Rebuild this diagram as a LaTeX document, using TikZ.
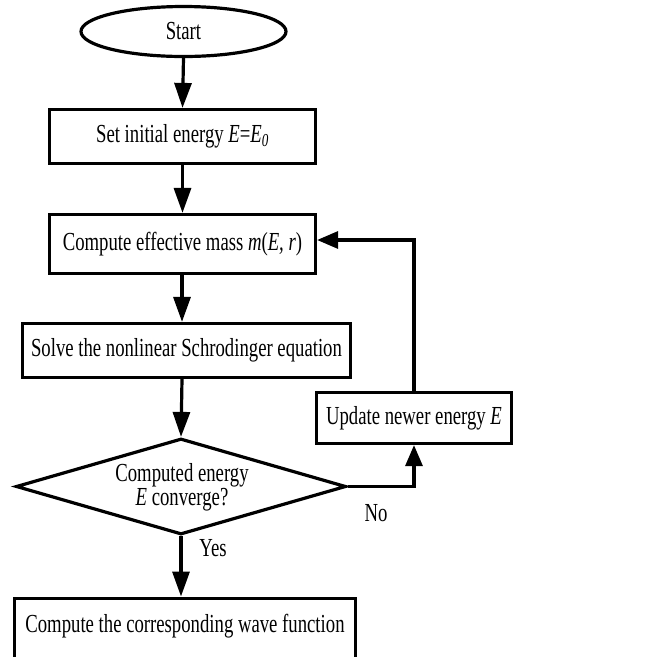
\documentclass[tikz,border=0pt]{standalone}
\usepackage{fontspec}
\setmainfont[FakeStretch=0.72]{Liberation Serif}
\usetikzlibrary{shapes.geometric,arrows.meta,calc}
\begin{document}
\begin{tikzpicture}[x=1pt,y=-1pt,
  every node/.style={font=\fontsize{26}{19}\selectfont, inner sep=0pt, text=black},
  boxnode/.style={draw, line width=3.2pt, rectangle, align=center},
  flow/.style={line width=3.2pt, -{Triangle[length=25pt,width=17pt]}},
  backflow/.style={line width=3.2pt, -{Triangle[length=21pt,width=17pt]}}]
\useasboundingbox (0,0) rectangle (645,657);
\node[draw, line width=3.2pt, ellipse, minimum width=205pt, minimum height=50pt] (start) at (183.5,31.5) {Start};
\node[boxnode, minimum width=266pt, minimum height=54pt] (init) at (182.5,136.5) {Set initial energy \textit{E}=\textit{E}\textsubscript{\textit{0}}};
\node[boxnode, minimum width=266pt, minimum height=59pt] (mass) at (182.5,244) {Compute effective mass \textit{m}(\textit{E, r})};
\node[boxnode, minimum width=328pt, minimum height=54pt] (solve) at (186.5,350.5) {Solve the nonlinear Schrodinger equation};
\node[draw, line width=3.2pt, diamond, minimum width=330pt, minimum height=96pt] (conv) at (181,486.5) {};
\node[align=center] (convtext) at (182,487) {Computed energy\\\textit{E} converge?};
\node[boxnode, minimum width=195pt, minimum height=51pt] (upd) at (414,418) {Update newer energy \textit{E}};
\node[boxnode, minimum width=341pt, minimum height=70pt, anchor=north] (wave) at (185,596.5) {};
\node (wavetext) at (185,626) {Compute the corresponding wave function};
\node (no) at (376,513) {No};
\node (yes) at (213,548) {Yes};
\coordinate (corner) at (414,486.5);
\coordinate (massin) at ($(mass.east)+(0,-4)$);
\draw[flow] (start.south) -- (init.north);
\draw[flow] (init.south) -- (mass.north);
\draw[flow] ([xshift=-0.5pt]mass.south) -- ([xshift=-4.5pt]solve.north);
\draw[flow] ([xshift=-4.5pt]solve.south) -- (conv.north);
\draw[flow] (conv.south) -- (conv.south |- wave.north);
\draw[backflow] (conv.east) -- (corner) -- (upd.south);
\draw[backflow] (upd.north) |- (massin);
\end{tikzpicture}
\end{document}
